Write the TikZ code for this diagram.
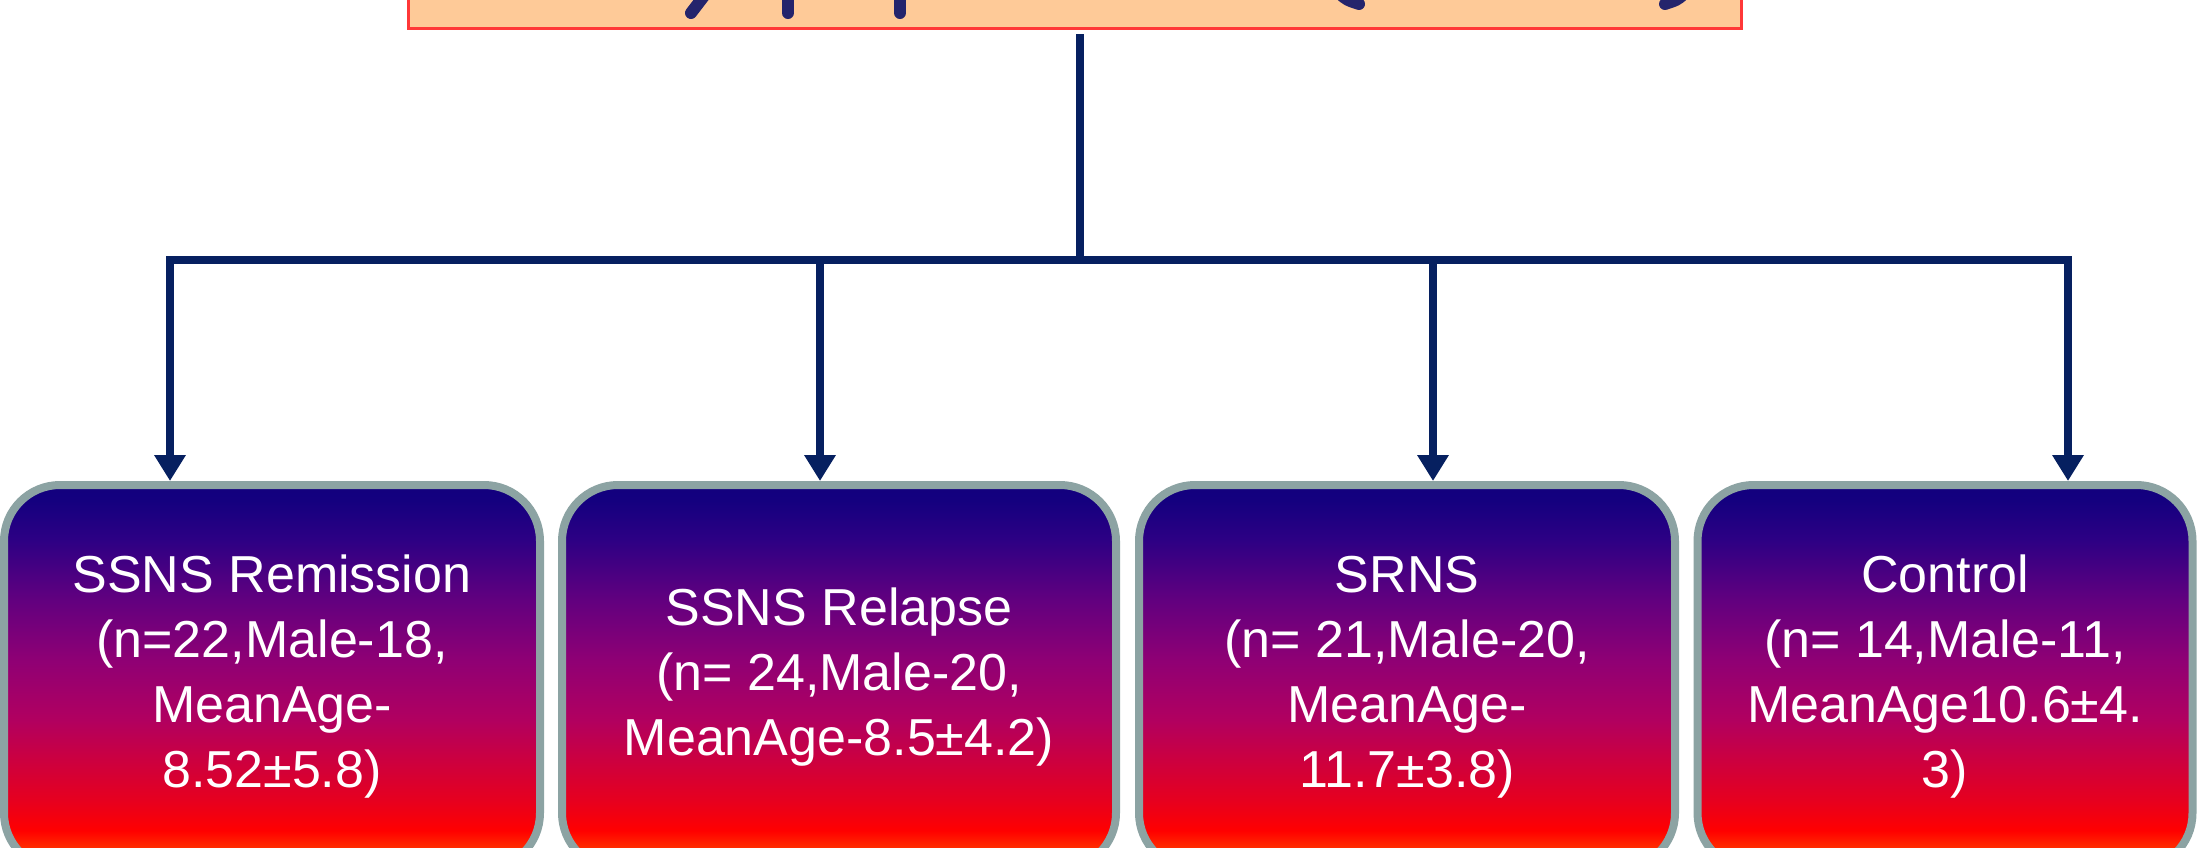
\documentclass[tikz,border=0pt]{standalone}
\usepackage{fontspec}
\setmainfont{Liberation Sans}
\usetikzlibrary{arrows.meta}

% palette
\definecolor{wirenavy}{HTML}{062060}
\definecolor{peach}{HTML}{FECA98}
\definecolor{titlered}{HTML}{FF3838}
\definecolor{rimgray}{HTML}{8CA3A3}
\definecolor{glyphnavy}{HTML}{24246C}

% stops of the group-box gradient (bottom to top)
\definecolor{gA}{HTML}{FF6000}
\definecolor{gB}{HTML}{FF2800}
\definecolor{gC}{HTML}{FF0000}
\definecolor{gD}{HTML}{E6001F}
\definecolor{gE}{HTML}{D20038}
\definecolor{gF}{HTML}{B10060}
\definecolor{gG}{HTML}{900074}
\definecolor{gH}{HTML}{62007F}
\definecolor{gI}{HTML}{2C0084}
\definecolor{gJ}{HTML}{14007F}
\definecolor{gK}{HTML}{12007E}

\pgfdeclareverticalshading{groupfill}{100bp}{
  color(0bp)=(gA); color(25bp)=(gA); color(28bp)=(gB); color(30bp)=(gC);
  color(34bp)=(gD); color(38bp)=(gE); color(44.5bp)=(gF); color(52bp)=(gG);
  color(60bp)=(gH); color(68bp)=(gI); color(73bp)=(gJ); color(75bp)=(gK);
  color(100bp)=(gK)}

\tikzset{
  titlebox/.style={rectangle, draw=titlered, line width=3pt, fill=peach, inner sep=0pt},
  glyph/.style={draw=glyphnavy, line width=12pt, line cap=round},
  groupbox/.style={rectangle, draw=rimgray, line width=8pt, rounded corners=56pt,
    shade, shading=groupfill, text=white, align=center, inner sep=0pt,
    minimum height=384pt, font=\fontsize{52}{65}\selectfont},
  wire/.style={draw=wirenavy, line width=8pt, line cap=rect},
  drop/.style={draw=wirenavy, line width=8pt,
    -{Triangle[width=30pt,length=26pt]}},
}

\begin{document}
\begin{tikzpicture}[x=1pt,y=-1pt]
\useasboundingbox (0,0) rectangle (2198,847);
\fill[white] (0,0) rectangle (2198,847);
\clip (0,0) rectangle (2198,847);

% heading box, mostly above the top edge
\node[titlebox, minimum width=1333pt, minimum height=130pt] (title) at (1075,-37) {};
% lower ends of the heading letters
\draw[glyph] (704,-4) -- (691,13);
\draw[glyph] (788,-4) -- (788,13);
\draw[glyph] (900,-4) -- (900,13);
\draw[glyph] (1340,-6) .. controls (1347,0) .. (1359,4);
\draw[glyph] (1684,-6) .. controls (1677,0) .. (1665,4);

% group boxes
\node[groupbox, minimum width=536pt] (b1) at (272,677)
  {SSNS Remission\\(n=22,Male-18,\\MeanAge-\\8.52±5.8)};
\node[groupbox, minimum width=554pt] (b2) at (839,677)
  {SSNS Relapse\\(n= 24,Male-20,\\MeanAge-8.5±4.2)};
\node[groupbox, minimum width=536pt] (b3) at (1407,677)
  {SRNS\\(n= 21,Male-20,\\MeanAge-\\11.7±3.8)};
\node[groupbox, minimum width=495pt] (b4) at (1945,677)
  {Control\\(n= 14,Male-11,\\MeanAge10.6±4.\\3)};

% branching connectors
\coordinate (hub) at (1080,260);
\coordinate (d1) at (170,260);
\coordinate (d2) at (820,260);
\coordinate (d3) at (1433,260);
\coordinate (d4) at (2068,260);

\draw[wire, shorten <=8pt] (title.south -| hub) -- (hub);
\draw[wire] (d1) -- (d4);
\draw[drop] (d1) -- (d1 |- b1.north);
\draw[drop] (d2) -- (d2 |- b2.north);
\draw[drop] (d3) -- (d3 |- b3.north);
\draw[drop] (d4) -- (d4 |- b4.north);
\end{tikzpicture}
\end{document}
